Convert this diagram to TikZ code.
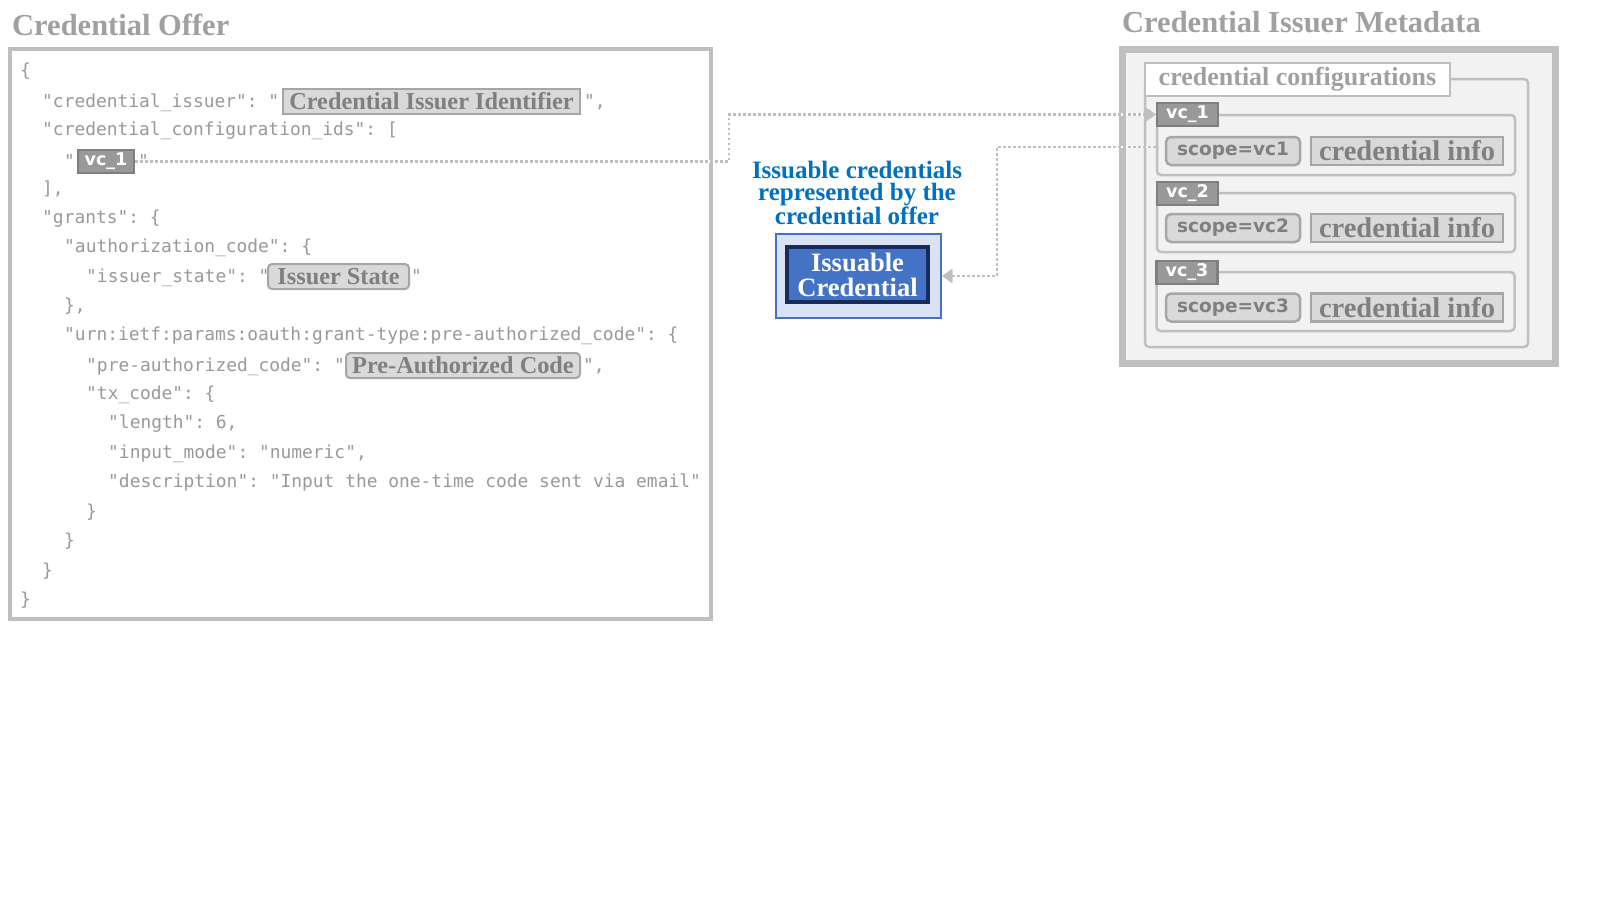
\documentclass[tikz,border=0pt]{standalone}
\usepackage{fontspec}
\setmainfont{Liberation Serif}
\setmonofont{DejaVu Sans Mono}
\newfontfamily\dvsans{DejaVu Sans}
\usetikzlibrary{arrows.meta}
\definecolor{titlegray}{HTML}{A0A0A0}
\definecolor{codegray}{HTML}{999999}
\definecolor{boxtext}{HTML}{7F7F7F}
\definecolor{lightfill}{HTML}{D9D9D9}
\definecolor{boxborder}{HTML}{A6A6A6}
\definecolor{linegray}{HTML}{BFBFBF}
\definecolor{panelfill}{HTML}{F2F2F2}
\definecolor{tabfill}{HTML}{999999}
\definecolor{tabborder}{HTML}{7F7F7F}
\definecolor{capblue}{HTML}{0070C0}
\definecolor{issfill}{HTML}{DAE3F3}
\definecolor{issblue}{HTML}{4472C4}
\definecolor{issnavy}{HTML}{172C5C}
\begin{document}
\begin{tikzpicture}[x=1pt,y=-1pt,
  title/.style={anchor=base west, inner sep=0pt, text=titlegray, font=\bfseries\fontsize{30.5}{32}\selectfont},
  code/.style={anchor=base west, inner sep=0pt, text=codegray, font=\ttfamily\fontsize{17.9}{20}\selectfont},
  hlbox/.style={draw=boxborder, fill=lightfill, line width=2pt, inner sep=0pt, text=boxtext, font=\bfseries\fontsize{24.3}{26}\selectfont},
  hlround/.style={hlbox, rounded corners=4pt},
  tagbox/.style={draw=tabborder, fill=tabfill, line width=2.5pt, inner sep=0pt, text=white, font=\dvsans\bfseries\fontsize{17.5}{19}\selectfont},
  panel/.style={draw=linegray, fill=panelfill},
  group/.style={draw=linegray, fill=panelfill, line width=2.5pt, rounded corners=4pt, inner sep=0pt},
  scopebox/.style={draw=boxborder, fill=lightfill, line width=2.5pt, rounded corners=5pt, inner sep=0pt, text=boxtext, font=\dvsans\bfseries\fontsize{18.5}{20}\selectfont},
  infobox/.style={draw=boxborder, fill=lightfill, line width=2.5pt, inner sep=0pt, text=boxtext, font=\bfseries\fontsize{28.5}{29}\selectfont},
  conn/.style={draw=linegray, line width=2.5pt, dash pattern=on 2.5pt off 2.5pt,
     preaction={draw=white, solid, line width=2.5pt}},
  tip/.style={-{Triangle[length=10pt,width=14pt,fill=linegray,line width=0pt]}}
]
\useasboundingbox (0,0) rectangle (1600,900);
\fill[white] (0,0) rectangle (1600,900);

% ---------------- Credential Offer ----------------
\node[title] (tOffer) at (12,35) {Credential Offer};
\node[draw=linegray, line width=4pt, fill=white, minimum width=701pt, minimum height=570pt, inner sep=0pt] (offer) at (360.5,334) {};

\node[code] (l0) at (20,76) {\{};
\node[code] (l1) at (42,107) {"credential\_issuer": "};
\node[hlbox, minimum width=297pt, minimum height=25pt] (cii) at (431.5,101.5) {Credential Issuer Identifier};
\node[code] (l1b) at (584,107) {",};
\node[code] (l2) at (42,135) {"credential\_configuration\_ids": [};
\node[code] (l3) at (64,167) {"};
\node[tagbox, minimum width=56pt, minimum height=23pt] (vcL) at (106,161.5) {vc\_1};
\node[code] (l3b) at (138,167) {"};
\node[code] (l4) at (42,194) {],};
\node[code] (l5) at (42,223) {"grants": \{};
\node[code] (l6) at (64,252) {"authorization\_code": \{};
\node[code] (l7) at (86,282) {"issuer\_state": "};
\node[hlround, minimum width=141pt, minimum height=25pt] (ist) at (338.5,276.5) {Issuer State};
\node[code] (l7b) at (411,282) {"};
\node[code] (l8) at (64,311) {\},};
\node[code] (l9) at (64,340) {"urn:ietf:params:oauth:grant-type:pre-authorized\_code": \{};
\node[code] (l10) at (86,371) {"pre-authorized\_code": "};
\node[hlround, minimum width=234pt, minimum height=25pt] (pac) at (463,365.5) {Pre-Authorized Code};
\node[code] (l10b) at (583,371) {",};
\node[code] (l11) at (86,399) {"tx\_code": \{};
\node[code] (l12) at (108,428) {"length": 6,};
\node[code] (l13) at (108,458) {"input\_mode": "numeric",};
\node[code] (l14) at (108,487) {"description": "Input the one-time code sent via email"};
\node[code] (l15) at (86,517) {\}};
\node[code] (l16) at (64,546) {\}};
\node[code] (l17) at (42,576) {\}};
\node[code] (l18) at (20,605) {\}};

% ---------------- Middle ----------------
\node[align=center, inner sep=0pt, text=capblue, font=\bfseries\fontsize{25}{22}\selectfont] (cap) at (857,193)
  {Issuable credentials\\represented by the\\credential offer};
\node[draw=issblue, fill=issfill, line width=2.5pt, minimum width=165pt, minimum height=84pt, inner sep=0pt] (issO) at (858.5,276) {};
\node[draw=issnavy, fill=issblue, line width=3.5pt, minimum width=141pt, minimum height=55pt, inner sep=0pt,
  align=center, text=white, font=\bfseries\fontsize{26.5}{25}\selectfont] (issI) at (857.5,274.5) {Issuable\\Credential};

% ---------------- Credential Issuer Metadata ----------------
\node[title] (tMeta) at (1122,32) {Credential Issuer Metadata};
\node[panel, line width=7pt, minimum width=433pt, minimum height=314pt, inner sep=0pt] (meta) at (1339,206.5) {};
\node[group, minimum width=383pt, minimum height=268pt] (cfg) at (1336.5,213) {};
\node[draw=linegray, fill=white, line width=2.5pt, minimum width=305pt, minimum height=33pt, inner sep=0pt,
  text=titlegray, font=\bfseries\fontsize{26}{28}\selectfont] (cfgtab) at (1297.5,79.5) {credential configurations};

\node[group, minimum width=358pt, minimum height=60pt] (g1) at (1336,145) {};
\node[tagbox, minimum width=61pt, minimum height=23pt] (t1) at (1187.5,114.5) {vc\_1};
\node[scopebox, minimum width=134pt, minimum height=28pt] (s1) at (1233,151) {scope=vc1};
\node[infobox, minimum width=192pt, minimum height=28pt] (c1) at (1407,151) {credential info};

\node[group, minimum width=358pt, minimum height=59pt] (g2) at (1336,222.5) {};
\node[tagbox, minimum width=61pt, minimum height=23pt] (t2) at (1187.5,193.5) {vc\_2};
\node[scopebox, minimum width=134pt, minimum height=28pt] (s2) at (1233,228) {scope=vc2};
\node[infobox, minimum width=192pt, minimum height=28pt] (c2) at (1407,228) {credential info};

\node[group, minimum width=358pt, minimum height=59pt] (g3) at (1335.5,301.5) {};
\node[tagbox, minimum width=61pt, minimum height=23pt] (t3) at (1187,272.5) {vc\_3};
\node[scopebox, minimum width=134pt, minimum height=28pt] (s3) at (1233,307.5) {scope=vc3};
\node[infobox, minimum width=192pt, minimum height=28pt] (c3) at (1407,307.5) {credential info};

% ---------------- Connectors ----------------
\coordinate (j1) at (729,0);
\coordinate (j2) at (997,0);
\draw[conn, tip] (vcL.east) -- (vcL.east -| j1) |- (t1.west);
\draw[conn, tip] ([yshift=-2pt]g1.west) -- ([yshift=-2pt]g1.west -| j2) |- (issO.east);
\end{tikzpicture}
\end{document}
